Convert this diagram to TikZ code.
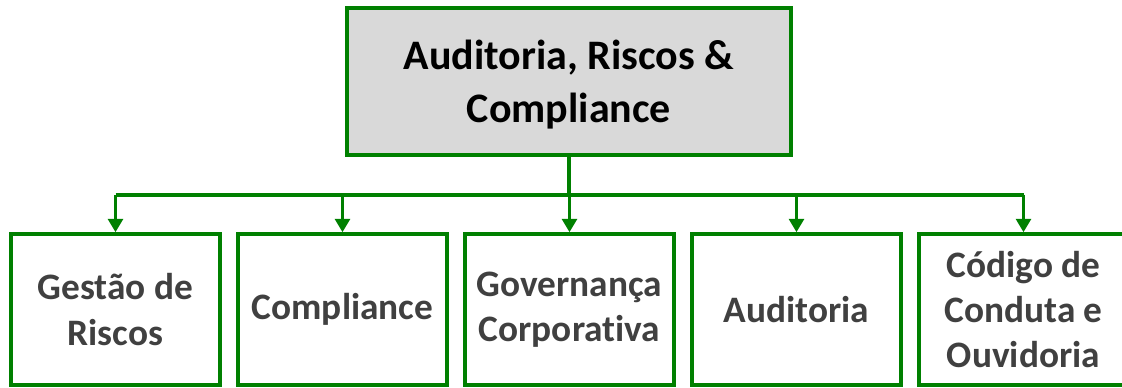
\documentclass[tikz,border=0pt]{standalone}
\usepackage{fontspec}
\setmainfont{Carlito}[Ligatures=NoCommon]
\usetikzlibrary{arrows.meta}
\definecolor{grn}{RGB}{0,128,0}
\definecolor{boxgray}{RGB}{217,217,217}
\definecolor{txtgray}{RGB}{64,64,64}
\begin{document}
\begin{tikzpicture}[x=0.75pt,y=-0.75pt,
  topbox/.style={draw=grn,line width=2.6pt,fill=boxgray,minimum width=444*0.75pt,minimum height=147*0.75pt,inner sep=0pt,align=center,text depth=0pt,font=\fontsize{31.5}{39.5}\selectfont\bfseries,text=black},
  subbox/.style={draw=grn,line width=2.6pt,fill=white,minimum width=209*0.75pt,minimum height=151*0.75pt,inner sep=0pt,align=center,font=\fontsize{28}{34}\selectfont\bfseries,text=txtgray},
  conn/.style={draw=grn,line width=2.6pt},
  arr/.style={conn,-{Triangle[width=11pt,length=10pt]}}]
\useasboundingbox (0,0) rectangle (1122,388);
\clip (0,0) rectangle (1122,388);
\node[topbox] (top) at (569,81.5) {Auditoria, Riscos \&\\Compliance};
\node[subbox] (b1) at (115.5,309.5) {Gestão de\\Riscos};
\node[subbox] (b2) at (342.5,309.5) {Compliance};
\node[subbox] (b3) at (569.5,309.5) {Governança\\Corporativa};
\node[subbox] (b4) at (796.5,309.5) {Auditoria};
\node[subbox] (b5) at (1023.5,309.5) {Código de\\Conduta e\\Ouvidoria};
\coordinate (bus) at (569,195);
\coordinate (busL) at (115.5,195);
\coordinate (busR) at (1023.5,195);
\draw[conn] (top.south) -- (bus);
\draw[conn] (busL) -- (busR);
\foreach \b in {b1,b2,b3,b4,b5}{
  \draw[arr] (\b.north |- bus) -- (\b.north);
}
\end{tikzpicture}
\end{document}
